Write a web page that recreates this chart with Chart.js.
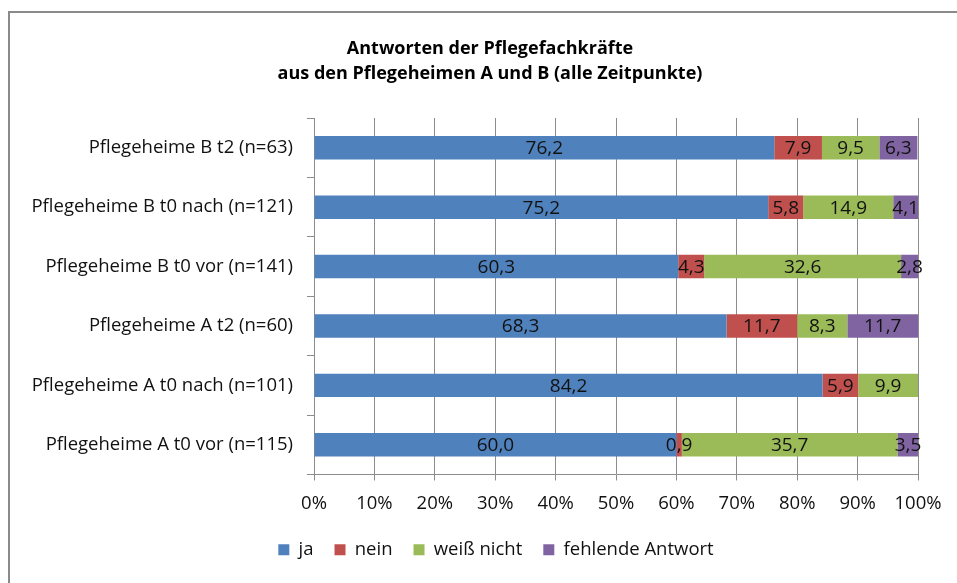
<!DOCTYPE html>
<html>
<head>
<meta charset="utf-8">
<script src="https://cdn.jsdelivr.net/npm/chart.js@4"></script>
<style>
  html, body { margin: 0; padding: 0; background: #fff; }
  #wrap { width: 957px; height: 583px; }
</style>
</head>
<body>
<div id="wrap"><canvas id="chart" width="957" height="583"></canvas></div>
<script>
// Kategorien von oben nach unten
const categories = [
    'Pflegeheime B t2 (n=63)',
    'Pflegeheime B t0 nach (n=121)',
    'Pflegeheime B t0 vor (n=141)',
    'Pflegeheime A t2 (n=60)',
    'Pflegeheime A t0 nach (n=101)',
    'Pflegeheime A t0 vor (n=115)'
];

const ja = [76.2, 75.2, 60.3, 68.3, 84.2, 60.0];
const nein = [7.9, 5.8, 4.3, 11.7, 5.9, 0.9];
const weissNicht = [9.5, 14.9, 32.6, 8.3, 9.9, 35.7];
const fehlend = [6.3, 4.1, 2.8, 11.7, 0, 3.5];

const xTicks = [0, 10, 20, 30, 40, 50, 60, 70, 80, 90, 100];

const FONT = '"Open Sans", "Liberation Sans", sans-serif';

// Rahmen (nur links und oben sichtbar)
const frame = {
    id: 'frame',
    beforeDraw(chart) {
        const ctx = chart.ctx;
        ctx.save();
        ctx.strokeStyle = '#8a8a8a';
        ctx.lineWidth = 2;
        ctx.beginPath();
        ctx.moveTo(9, chart.height);
        ctx.lineTo(9, 12);
        ctx.lineTo(chart.width, 12);
        ctx.stroke();
        ctx.restore();
    }
};

// Titel und Legende etwas nach rechts schieben (wie im Original)
const shiftBoxes = {
    id: 'shiftBoxes',
    afterLayout(chart) {
        const move = (box, d) => {
            if (!box) return;
            box.left += d;
            box.right += d;
        };
        move(chart.titleBlock, 21);
        move(chart.legend, 27);
    }
};

// Werte mittig in die Segmente schreiben
const valueLabels = {
    id: 'valueLabels',
    afterDatasetsDraw(chart) {
        const ctx = chart.ctx;
        ctx.save();
        ctx.font = '19px ' + FONT;
        ctx.fillStyle = '#111';
        ctx.textAlign = 'center';
        ctx.textBaseline = 'middle';
        chart.data.datasets.forEach((ds, i) => {
            chart.getDatasetMeta(i).data.forEach((bar, j) => {
                const v = ds.data[j];
                if (!v) return;
                const x = (bar.x + bar.base) / 2;
                ctx.fillText(v.toFixed(1).replace('.', ','), x, bar.y + 1);
            });
        });
        ctx.restore();
    }
};

const ctx = document.getElementById('chart').getContext('2d');
new Chart(ctx, {
    type: 'bar',
    data: {
        labels: categories,
        datasets: [
            { label: 'ja', data: ja, backgroundColor: '#4f81bd' },
            { label: 'nein', data: nein, backgroundColor: '#c0504d' },
            { label: 'weiß nicht', data: weissNicht, backgroundColor: '#9bbb59' },
            { label: 'fehlende Antwort', data: fehlend, backgroundColor: '#8064a2' }
        ]
    },
    options: {
        indexAxis: 'y',
        responsive: false,
        animation: false,
        barPercentage: 0.395,
        categoryPercentage: 1,
        layout: {
            padding: { left: 20, right: 39, top: 36, bottom: 14 }
        },
        scales: {
            x: {
                stacked: true,
                min: 0,
                max: 100,
                afterBuildTicks: axis => {
                    axis.ticks = xTicks.map(v => ({ value: v }));
                },
                ticks: {
                    color: '#111',
                    font: { family: FONT, size: 18.5 },
                    padding: 12,
                    maxRotation: 0,
                    callback: v => v + '%'
                },
                grid: {
                    color: '#8c8c8c',
                    tickLength: 6
                },
                border: { color: '#8c8c8c' },
                afterFit: axis => { axis.height = 45; }
            },
            y: {
                stacked: true,
                ticks: {
                    color: '#111',
                    font: { family: FONT, size: 18.5 },
                    padding: 14
                },
                grid: {
                    drawOnChartArea: false,
                    color: '#8c8c8c',
                    tickLength: 7
                },
                border: { color: '#8c8c8c' },
                afterFit: axis => { axis.width = 314 - 20; }
            }
        },
        plugins: {
            title: {
                display: true,
                text: ['Antworten der Pflegefachkräfte', 'aus den Pflegeheimen A und B (alle Zeitpunkte)'],
                color: '#000',
                font: { family: FONT, size: 18, weight: 'bold', lineHeight: 1.39 },
                padding: { top: 0, bottom: 32 }
            },
            legend: {
                position: 'bottom',
                labels: {
                    color: '#111',
                    font: { family: FONT, size: 18.5 },
                    boxWidth: 11,
                    boxHeight: 11,
                    padding: 21
                }
            },
            tooltip: { enabled: false }
        }
    },
    plugins: [frame, shiftBoxes, valueLabels]
});
</script>
</body>
</html>
